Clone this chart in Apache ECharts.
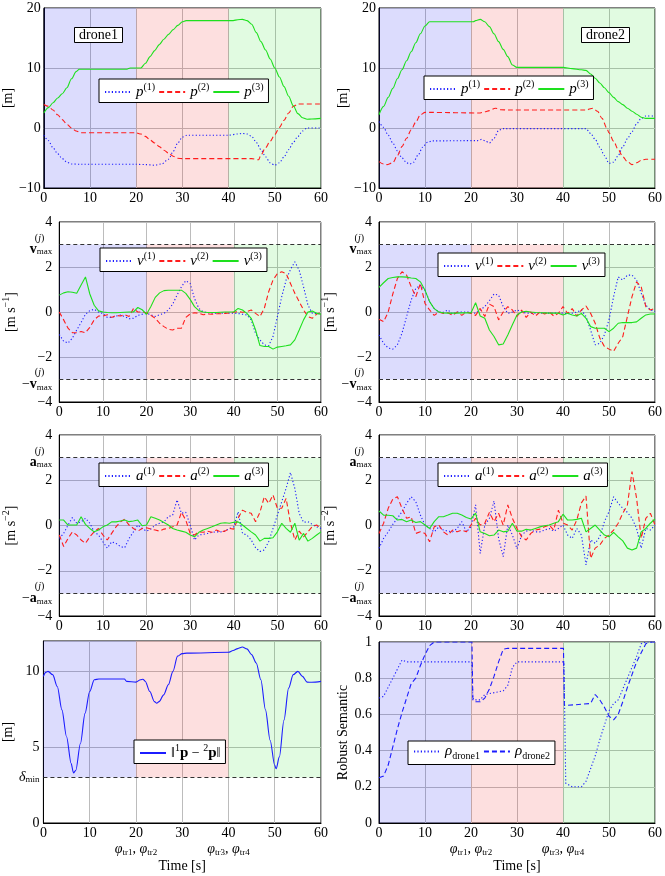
<!DOCTYPE html>
<html>
<head>
<meta charset="utf-8">
<script src="https://cdn.jsdelivr.net/npm/echarts@6/dist/echarts.min.js"></script>
<style>
html,body{margin:0;padding:0;background:#fff}
#main{width:665px;height:876px}
</style>
</head>
<body>
<div id="main"></div>
<script>
var FONT = 'Liberation Serif';

// sample times (s) for velocity / acceleration
var T = [0,1,2,3,4,5,6,7,8,9,10,11,12,13,14,15,16,17,18,19,20,21,22,23,24,25,26,27,28,29,30,
         31,32,33,34,35,36,37,38,39,40,41,42,43,44,45,46,47,48,49,50,51,52,53,54,55,56,57,58,59,60];

// positions [t, m]
var d1_p1 = [[0,-1.2],[1,-2.1],[2,-3.3],[3,-4.3],[4,-5.1],[5,-5.7],[6,-6],[8,-6.05],[20,-6.05],[22,-6.1],[24,-6.2],[25.5,-6.0],[27,-5.2],[28,-3.9],[29,-2.5],[30,-1.5],[31,-1.2],[40,-1.2],[42,-1.0],[43,-0.9],[44,-1.0],[45,-1.4],[46,-2.4],[47,-3.6],[48,-4.8],[49,-5.8],[50,-6.2],[51,-5.8],[52,-4.8],[53,-3.6],[54,-2.4],[55,-1.4],[56,-0.5],[57,0],[60,0]];
var d1_p2 = [[0,3.9],[1,3.6],[2,3],[3,2.2],[4,1.4],[5,0.6],[6,0],[7,-0.5],[8,-0.8],[20,-0.8],[21,-1.0],[22,-1.4],[23,-2.0],[24,-2.5],[25,-3.1],[26,-3.7],[27,-4.2],[28,-4.7],[29,-5.05],[30,-5.1],[45,-5.1],[46.5,-5.3],[47,-4.5],[48,-3.3],[49,-2.2],[50,-1.1],[51,0.1],[52,1.3],[53,2.5],[54,3.6],[55,4.0],[60,4.0]];
var d1_p3 = [[0,2.5],[1,3.4],[2,4.2],[3,5],[4,5.7],[5,6.7],[6,8.2],[7,9.4],[7.7,9.8],[18,9.8],[18.7,10.0],[21,10.0],[22,10.8],[23,11.9],[24,12.9],[25,13.9],[26,14.8],[27,15.6],[28,16.4],[29,17.1],[30,17.7],[30.8,17.9],[41,17.9],[42,18.05],[43,18.1],[44,17.9],[45,17.3],[46,15.9],[47,14.4],[48,13],[49,11.5],[50,10],[51,8.5],[52,6.9],[53,5.3],[54,3.7],[55,2.4],[56,1.7],[57,1.45],[58,1.5],[60,1.6]];

var d2_p1 = [[0,1.1],[1,0.1],[2,-1.2],[3,-2.5],[4,-3.8],[5,-5],[6,-5.8],[6.7,-6.0],[7.5,-5.7],[8.5,-4.5],[9.5,-3.2],[10.5,-2.4],[11.5,-2.15],[21.5,-2.1],[22.3,-1.9],[23,-2.1],[24,-2.5],[25,-1.7],[26,-0.4],[27,-0.1],[45,-0.1],[46,-0.9],[47,-1.9],[48,-3.2],[49,-4.6],[50,-5.9],[51,-5.7],[52,-4.6],[53,-3.1],[54,-1.8],[55,-0.6],[56,0.7],[57,1.6],[58,2.0],[60,2.0]];
var d2_p2 = [[0,-5.6],[1,-6.0],[1.7,-6.1],[3,-5.8],[4,-4.6],[5,-3.1],[6,-1.7],[7,-0.3],[8,1.0],[9,2.2],[10,2.6],[11,2.6],[22,2.5],[23,2.7],[24,2.9],[25.3,3.3],[26.5,3.05],[28,3.0],[45,3.0],[46.5,3.3],[47.5,2.8],[48.5,1.6],[49.5,0],[50,-0.8],[51,-2.2],[52,-3.6],[53,-4.8],[54,-5.6],[55,-6.1],[56,-5.8],[57,-5.4],[58,-5.2],[60,-5.2]];
var d2_p3 = [[0,2.2],[1,3.6],[2,5.1],[3,6.6],[4,8.2],[5,9.7],[6,11.2],[7,12.7],[8,14.2],[9,15.7],[10,17.0],[11,17.7],[20.5,17.7],[21,17.9],[22,18.1],[23,17.7],[24,16.9],[25,15.7],[26,14.4],[27,13.1],[28,11.9],[29,10.5],[30,10.1],[40,10.1],[42,9.9],[44,9.7],[45,9.6],[46,9.0],[47,8.3],[48,7.5],[49,6.7],[50,5.9],[51,5.1],[52,4.4],[53,3.9],[54,3.3],[55,2.8],[56,2.3],[57,1.8],[58,1.6],[60,1.6]];

// velocities (m/s), one value per second
var d1_v1 = [-1.0,-1.3,-1.38,-1.16,-0.8,-0.47,-0.1,0.06,0.12,0.0,-0.07,-0.24,-0.24,-0.18,-0.14,-0.2,-0.3,-0.28,-0.15,-0.1,-0.06,-0.12,-0.2,-0.12,-0.06,0.09,0.35,0.75,1.12,1.39,1.27,0.6,0.16,0.0,-0.03,-0.05,-0.05,-0.05,-0.05,-0.05,-0.05,-0.07,-0.1,-0.13,-0.35,-0.96,-1.24,-1.46,-1.5,-1.09,-0.2,0.68,1.42,1.89,2.23,1.86,1.12,0.31,-0.06,-0.07,-0.07];
var d1_v2 = [0.0,-0.35,-0.72,-0.92,-0.92,-0.87,-0.92,-0.68,-0.35,-0.18,-0.18,-0.12,-0.24,-0.15,-0.18,-0.12,-0.2,0.15,0.0,0.0,-0.04,-0.15,-0.28,-0.5,-0.65,-0.77,-0.8,-0.72,-0.72,-0.24,-0.09,-0.03,-0.06,-0.12,-0.09,-0.1,-0.08,-0.08,-0.06,-0.04,-0.01,0.02,-0.01,0.02,0.09,-0.06,-0.2,0.16,0.9,1.42,1.71,1.79,1.71,1.27,0.83,0.46,0.09,-0.2,-0.28,-0.09,-0.03];
var d1_v3 = [0.75,0.85,0.9,0.88,0.83,1.2,1.56,0.8,0.3,0.05,0.0,-0.02,-0.03,-0.03,-0.02,-0.01,0.0,0.0,0.2,0.1,-0.1,0.24,0.65,0.85,0.95,0.97,0.97,0.97,0.97,0.83,0.56,0.24,0.06,0.0,-0.02,-0.02,-0.02,-0.01,0.0,0.0,0.0,0.16,0.09,-0.06,-0.28,-0.8,-1.49,-1.53,-1.53,-1.65,-1.56,-1.53,-1.5,-1.46,-1.24,-0.8,-0.35,0.0,0.04,-0.06,-0.1];
var d2_v1 = [-1.02,-1.39,-1.6,-1.65,-1.46,-0.94,-0.2,0.53,1.05,1.19,0.97,0.46,0.16,0.0,-0.01,0.09,-0.09,0.0,0.0,0.0,0.0,-0.06,0.09,0.24,0.5,0.8,0.75,0.24,-0.06,0.0,0.09,0.0,-0.05,-0.05,-0.05,-0.05,-0.05,-0.05,-0.05,-0.05,-0.05,-0.08,-0.05,0.0,0.09,-0.2,-0.8,-1.46,-1.39,-1.02,-0.35,0.68,1.56,1.42,1.64,1.64,1.42,0.83,0.31,0.09,0.0];
var d2_v2 = [-0.32,-0.43,0.0,0.8,1.49,1.79,1.64,1.12,0.68,1.27,0.38,0.09,-0.15,0.0,-0.06,-0.03,-0.15,0.0,-0.15,0.0,-0.06,-0.15,0.16,-0.2,0.35,0.24,-0.35,0.0,0.24,0.09,-0.2,0.09,-0.24,0.0,-0.18,0.0,-0.09,0.0,-0.18,-0.06,0.24,-0.06,0.15,-0.18,0.09,0.27,-0.06,-0.5,-1.16,-1.53,-1.65,-1.75,-1.39,-1.09,-0.2,0.68,1.34,1.12,0.24,0.09,0.16];
var d2_v3 = [1.09,1.3,1.49,1.53,1.56,1.56,1.55,1.51,1.49,1.34,0.97,0.46,0.15,0.0,-0.04,-0.05,-0.05,-0.05,-0.04,-0.03,-0.04,0.41,-0.18,-0.28,-0.8,-1.09,-1.46,-1.42,-1.02,-0.57,-0.13,0.0,0.03,0.0,-0.02,-0.03,-0.04,-0.05,-0.05,-0.05,-0.13,-0.06,-0.13,-0.18,-0.06,-0.28,-0.65,-0.72,-0.72,-0.72,-0.87,-0.72,-0.5,-0.47,-0.47,-0.47,-0.44,-0.28,-0.13,-0.09,-0.09];

// accelerations (m/s^2), one value per second
var d1_a1 = [-0.57,-0.35,0.02,0.35,0.1,0.16,0.32,0.1,-0.28,-0.42,-0.72,-1.0,-0.72,-0.79,-0.93,-0.98,-0.57,-0.28,0.02,-0.13,-0.25,-0.16,0.02,0.1,0.16,0.39,0.46,1.13,0.54,0.58,0.02,-0.64,-0.42,-0.39,-0.35,-0.3,-0.28,-0.28,-0.25,-0.13,-0.06,0.61,-0.35,-0.42,-0.64,-0.98,-1.15,-1.08,-0.72,-0.13,0.46,1.05,1.64,2.34,1.64,0.54,0.14,0.17,0.05,-0.06,-0.13];
var d1_a2 = [-0.42,-0.93,-0.57,-0.28,-0.42,-0.64,-0.79,-0.5,-0.28,-0.13,-0.42,-0.64,-0.35,-0.06,0.16,0.28,0.02,-0.13,-0.25,-0.13,-0.1,-0.16,-0.2,-0.25,-0.16,-0.13,-0.06,0.02,0.58,0.24,-0.35,-0.42,-0.28,-0.3,-0.25,-0.3,-0.2,-0.28,-0.25,-0.13,-0.16,0.32,0.68,0.58,0.54,0.17,0.58,1.27,0.98,1.35,0.76,0.76,1.2,0.1,-0.64,-0.25,-0.5,-0.28,-0.05,0.02,-0.13];
var d1_a3 = [0.24,0.24,0.02,0.02,0.02,0.39,0.05,-0.13,-0.28,-0.2,-0.06,0.02,0.16,0.16,0.2,0.24,0.17,0.2,0.24,-0.01,0.02,0.39,0.32,0.24,0.13,0.02,-0.13,-0.2,-0.25,-0.3,-0.42,-0.5,-0.3,-0.2,-0.13,-0.06,0.02,0.1,0.12,0.1,0.14,0.16,0.02,-0.13,-0.28,-0.42,-0.69,-0.57,-0.57,-0.54,-0.28,0.1,-0.13,-0.3,0.1,-0.65,-0.35,-0.69,-0.57,-0.42,-0.28];
var d2_a1 = [-1.01,-0.57,-0.28,0.05,0.32,0.61,0.98,1.27,1.05,0.46,0.02,-0.13,-0.28,-0.06,-0.2,-0.25,-0.28,-0.13,0.17,-0.28,-0.06,0.91,-1.23,0.02,0.32,1.08,-0.57,-1.38,0.02,-0.42,-1.03,-0.42,-0.25,-0.2,-0.28,-0.28,-0.2,-0.13,-0.25,-0.13,0.02,-0.42,-0.57,-0.13,-0.42,-1.74,-0.64,-0.79,-0.5,0.17,0.61,1.27,0.98,0.76,0.58,0.32,-0.13,-1.0,-0.13,-0.2,0.02];
var d2_a2 = [-0.35,0.1,0.76,1.17,1.27,0.76,0.32,0.39,-0.35,-0.28,-0.35,-0.72,-0.06,0.02,-0.28,-0.42,-0.2,-0.28,-0.2,-0.28,0.02,0.32,0.02,0.1,0.58,0.17,0.54,0.02,0.91,0.32,-0.13,-0.5,-0.64,-0.35,-0.2,-0.16,-0.06,0.02,-0.2,0.68,0.1,0.02,-0.2,0.24,1.0,1.3,-1.45,-1.0,-0.86,-0.57,-0.42,-0.2,0.1,0.54,0.91,2.38,1.2,-0.57,0.32,0.54,0.02];
var d2_a3 = [0.64,0.46,0.45,0.43,0.24,0.27,0.17,0.24,0.13,0.17,0.02,-0.13,0.17,0.39,0.39,0.46,0.54,0.54,0.46,0.35,0.29,0.55,-0.28,-0.35,-0.45,-0.42,-0.2,-0.28,-0.25,0.1,-0.25,-0.25,-0.17,-0.2,-0.13,-0.06,-0.01,0.02,0.1,0.17,0.5,0.24,0.24,0.27,0.32,-0.28,-0.13,0.02,-0.2,-0.42,-0.5,-0.3,-0.5,-0.68,-1.0,-1.08,-1.0,-0.28,-0.13,0.1,0.29];

// inter-drone distance [t, m]
var dist12 = [[0,9.67],[0.5,9.93],[1,10.0],[2,9.78],[3,9.0],[4,7.46],[5,5.69],[6,3.92],[6.5,3.3],[7,3.47],[8,5.24],[9,7.23],[10,8.67],[11,9.45],[12,9.49],[17.5,9.49],[18,9.34],[20,9.29],[21,9.45],[21.5,9.48],[22,9.35],[23,8.67],[24,8.0],[24.5,7.9],[25,8.0],[26,8.45],[27,9.12],[28,10.0],[29,11.0],[30,11.17],[31,11.2],[40,11.26],[41,11.37],[42,11.5],[43,11.6],[44,11.48],[45,11.1],[46,10.55],[47,9.45],[48,7.46],[49,5.46],[50,3.8],[50.3,3.58],[51,4.36],[52,6.79],[53,8.89],[54,9.78],[55,10.0],[56,9.67],[57,9.29],[58,9.28],[60,9.34]];
var deltaMin = 3;
var vMax = 3, aMax = 3;

// robust semantics [t, rho]
var rho1 = [[0,0.69],[1,0.70],[2,0.75],[3,0.8],[4,0.85],[5,0.9],[6,0.89],[20.2,0.89],[20.4,0.68],[22,0.68],[23,0.71],[27,0.73],[28,0.76],[29,0.86],[30,0.89],[40.2,0.89],[40.6,0.22],[42,0.2],[44,0.2],[45,0.23],[46,0.3],[47,0.37],[48,0.46],[49,0.54],[50,0.62],[51,0.66],[52,0.68],[53,0.74],[54,0.8],[55,0.86],[56,0.92],[57,0.99],[58,1.0],[60,1.0]];
var rho2 = [[0,0.25],[1,0.26],[2,0.32],[3,0.42],[4,0.52],[5,0.61],[6,0.69],[7,0.77],[8,0.8],[9,0.87],[10,0.93],[11,0.98],[12,1.0],[20.2,1.0],[20.4,0.69],[21,0.67],[22,0.67],[23,0.69],[24,0.74],[25,0.81],[26,0.89],[27,0.96],[28,0.965],[40.1,0.965],[40.3,0.65],[41,0.65],[46,0.66],[47,0.71],[48,0.68],[49,0.64],[50,0.59],[51,0.57],[52,0.6],[53,0.67],[54,0.75],[55,0.82],[56,0.89],[57,0.94],[58,0.99],[59,1.0],[60,1.0]];

// phase boundaries (s)
var phases = [0, 20, 40, 60];

var BLUE = '#1c1cff', RED = '#ff1c1c', GREEN = '#1ee01e';
var SHADE = ['rgba(40,40,240,0.16)', 'rgba(240,40,40,0.15)', 'rgba(40,230,40,0.14)'];
var GRIDC = '#bcbcbc';
var DOT = [1.2, 2.2], DASH = [5, 3];

var RICH = {
    n: {fontFamily: FONT, fontSize: 14, color: '#000', lineHeight: 20},
    i: {fontFamily: FONT, fontSize: 15, fontStyle: 'italic', color: '#000', lineHeight: 20},
    b: {fontFamily: FONT, fontSize: 15, fontWeight: 'bold', color: '#000', lineHeight: 20},
    sup: {fontFamily: FONT, fontSize: 10, color: '#000', verticalAlign: 'top', lineHeight: 8},
    sub: {fontFamily: FONT, fontSize: 10, color: '#000', verticalAlign: 'bottom', lineHeight: 12}
};
var LAB = {
    n: {fontFamily: FONT, fontSize: 14, color: '#000', lineHeight: 15},
    bv: {fontFamily: FONT, fontSize: 14, fontWeight: 'bold', color: '#000', lineHeight: 13},
    iv: {fontFamily: FONT, fontSize: 14, fontStyle: 'italic', color: '#000', lineHeight: 13},
    sub: {fontFamily: FONT, fontSize: 9, color: '#000', verticalAlign: 'bottom', lineHeight: 9},
    jp: {fontFamily: FONT, fontSize: 10, color: '#000', lineHeight: 10},
    jpr: {fontFamily: FONT, fontSize: 10, color: '#000', lineHeight: 10, padding: [0, 8, 0, 0]},
    ji: {fontFamily: FONT, fontSize: 10, fontStyle: 'italic', color: '#000', lineHeight: 10},
    phi: {fontFamily: FONT, fontSize: 14, fontStyle: 'italic', color: '#000', lineHeight: 16},
    ts: {fontFamily: FONT, fontSize: 9, color: '#000', verticalAlign: 'bottom', lineHeight: 11}
};

function num(v) {
    var s = Math.abs(v) < 1e-9 ? '0' : String(Math.round(Math.abs(v) * 10) / 10);
    return v < -1e-9 ? '−' + s : s;
}
function withT(vals) {
    return vals.map(function (v, i) { return [T[i], v]; });
}
function limFmt(sym) {
    return function (v) {
        var jl = '{jp|(}{ji|j}{jpr|)}';
        if (v === 3) return jl + '\n{bv|' + sym + '}{sub|max}';
        if (v === -3) return jl + '\n{n|−}{bv|' + sym + '}{sub|max}';
        return '{n|' + num(v) + '}';
    };
}
function timeFmt(v) {
    if (v === 20) return '{n|20}\n{phi|φ}{ts|tr1}{n|, }{phi|φ}{ts|tr2}';
    if (v === 40) return '{n|40}\n{phi|φ}{ts|tr3}{n|, }{phi|φ}{ts|tr4}';
    return '{n|' + v + '}';
}

var grids = [
    {left: 41, top: 8, width: 280, height: 180},
    {left: 379, top: 8, width: 281, height: 180},
    {left: 41, top: 222, width: 280, height: 180},
    {left: 379, top: 222, width: 281, height: 180},
    {left: 41, top: 435, width: 280, height: 181},
    {left: 379, top: 435, width: 281, height: 181},
    {left: 41, top: 641, width: 280, height: 182},
    {left: 379, top: 642, width: 281, height: 181}
].map(function (g) {
    return Object.assign({show: true, borderColor: '#000', borderWidth: 1, backgroundColor: 'rgba(0,0,0,0)'}, g);
});

var xAxes = grids.map(function (g, i) {
    var bottom = i >= 6;
    return {
        type: 'value', gridIndex: i, min: 0, max: 60, interval: 10,
        axisLine: {show: true, onZero: false, lineStyle: {color: '#000'}},
        axisTick: {show: false},
        splitLine: {show: true, lineStyle: {color: GRIDC, width: 1}},
        axisLabel: {margin: 3, formatter: bottom ? timeFmt : function (v) { return '{n|' + v + '}'; }, rich: LAB},
        name: bottom ? 'Time [s]' : '',
        nameLocation: 'middle', nameGap: 36,
        nameTextStyle: {fontFamily: FONT, fontSize: 14, color: '#000'}
    };
});

function yAxis(i, o) {
    return Object.assign({
        type: 'value', gridIndex: i,
        axisLine: {show: true, onZero: false, lineStyle: {color: '#000'}},
        axisTick: {show: false},
        splitLine: {show: true, lineStyle: {color: GRIDC, width: 1}},
        nameLocation: 'middle', nameRotate: 90,
        nameTextStyle: {fontFamily: FONT, fontSize: 14, color: '#000', rich: RICH}
    }, o);
}

var yAxes = [
    yAxis(0, {min: -10, max: 20, interval: 10, name: '[m]', nameGap: 20,
        axisLabel: {margin: 3, formatter: function (v) { return '{n|' + num(v) + '}'; }, rich: LAB}}),
    yAxis(1, {min: -10, max: 20, interval: 10, name: '[m]', nameGap: 20,
        axisLabel: {margin: 3, formatter: function (v) { return '{n|' + num(v) + '}'; }, rich: LAB}}),
    yAxis(2, {min: -4, max: 4, interval: 2, name: '{n|[m s}{sup|−1}{n|]}', nameGap: 14,
        axisLabel: {margin: 7, customValues: [-4, -3, -2, 0, 2, 3, 4], formatter: limFmt('v'), rich: LAB}}),
    yAxis(3, {min: -4, max: 4, interval: 2, name: '{n|[m s}{sup|−1}{n|]}', nameGap: 15,
        axisLabel: {margin: 7, customValues: [-4, -3, -2, 0, 2, 3, 4], formatter: limFmt('v'), rich: LAB}}),
    yAxis(4, {min: -4, max: 4, interval: 2, name: '{n|[m s}{sup|−2}{n|]}', nameGap: 14,
        axisLabel: {margin: 7, customValues: [-4, -3, -2, 0, 2, 3, 4], formatter: limFmt('a'), rich: LAB}}),
    yAxis(5, {min: -4, max: 4, interval: 2, name: '{n|[m s}{sup|−2}{n|]}', nameGap: 15,
        axisLabel: {margin: 7, customValues: [-4, -3, -2, 0, 2, 3, 4], formatter: limFmt('a'), rich: LAB}}),
    yAxis(6, {min: 0, max: 12, interval: 5, name: '[m]', nameGap: 19,
        axisLabel: {margin: 4, customValues: [0, 3, 5, 10], rich: LAB, formatter: function (v) {
            return v === 3 ? '{iv|δ}{sub|min}' : '{n|' + v + '}';
        }}}),
    yAxis(7, {min: 0, max: 1, interval: 0.2, name: 'Robust Semantic', nameGap: 24,
        axisLabel: {margin: 7, rich: LAB, formatter: function (v) {
            return '{n|' + (v === 0 || v === 1 ? String(v) : v.toFixed(1)) + '}';
        }}})
];

function bands(g, lo, hi, limits) {
    var s = {
        type: 'line', xAxisIndex: g, yAxisIndex: g, data: [], silent: true, z: 1,
        markArea: {silent: true, data: [0, 1, 2].map(function (k) {
            return [{xAxis: phases[k], yAxis: lo, itemStyle: {color: SHADE[k]}}, {xAxis: phases[k + 1], yAxis: hi}];
        })}
    };
    if (limits) {
        s.markLine = {silent: true, symbol: 'none', label: {show: false},
            lineStyle: {color: '#333', type: [4, 3], width: 1.2},
            data: limits.map(function (v) { return {yAxis: v}; })};
    }
    return s;
}
function line(name, data, g, color, dash, smooth) {
    return {
        name: name, type: 'line', xAxisIndex: g, yAxisIndex: g, data: data,
        symbol: 'none', showSymbol: false, smooth: smooth || false, smoothMonotone: 'x',
        lineStyle: {color: color, width: 1.1, type: dash}, itemStyle: {color: color},
        silent: true, z: 3
    };
}

var series = [
    bands(0, -10, 20), bands(1, -10, 20),
    bands(2, -vMax, vMax, [vMax, -vMax]), bands(3, -vMax, vMax, [vMax, -vMax]),
    bands(4, -aMax, aMax, [aMax, -aMax]), bands(5, -aMax, aMax, [aMax, -aMax]),
    bands(6, deltaMin, 12, [deltaMin]), bands(7, 0, 1),

    line('p1', d1_p1, 0, BLUE, DOT, 0.3), line('p2', d1_p2, 0, RED, DASH, 0.3), line('p3', d1_p3, 0, GREEN, 'solid', 0.3),
    line('q1', d2_p1, 1, BLUE, DOT, 0.3), line('q2', d2_p2, 1, RED, DASH, 0.3), line('q3', d2_p3, 1, GREEN, 'solid', 0.3),
    line('v1', withT(d1_v1), 2, BLUE, DOT), line('v2', withT(d1_v2), 2, RED, DASH), line('v3', withT(d1_v3), 2, GREEN, 'solid'),
    line('w1', withT(d2_v1), 3, BLUE, DOT), line('w2', withT(d2_v2), 3, RED, DASH), line('w3', withT(d2_v3), 3, GREEN, 'solid'),
    line('a1', withT(d1_a1), 4, BLUE, DOT), line('a2', withT(d1_a2), 4, RED, DASH), line('a3', withT(d1_a3), 4, GREEN, 'solid'),
    line('b1', withT(d2_a1), 5, BLUE, DOT), line('b2', withT(d2_a2), 5, RED, DASH), line('b3', withT(d2_a3), 5, GREEN, 'solid'),
    line('dist', dist12, 6, BLUE, 'solid', 0.3),
    line('r1', rho1, 7, BLUE, DOT), line('r2', rho2, 7, BLUE, DASH)
];

var LEGTXT = {
    p1: '{i|p}{sup|(1)}', p2: '{i|p}{sup|(2)}', p3: '{i|p}{sup|(3)}',
    q1: '{i|p}{sup|(1)}', q2: '{i|p}{sup|(2)}', q3: '{i|p}{sup|(3)}',
    v1: '{i|v}{sup|(1)}', v2: '{i|v}{sup|(2)}', v3: '{i|v}{sup|(3)}',
    w1: '{i|v}{sup|(1)}', w2: '{i|v}{sup|(2)}', w3: '{i|v}{sup|(3)}',
    a1: '{i|a}{sup|(1)}', a2: '{i|a}{sup|(2)}', a3: '{i|a}{sup|(3)}',
    b1: '{i|a}{sup|(1)}', b2: '{i|a}{sup|(2)}', b3: '{i|a}{sup|(3)}',
    dist: '{n|‖}{sup|1}{b|p}{n| − }{sup|2}{b|p}{n|‖}',
    r1: '{i|ρ}{sub|drone1}', r2: '{i|ρ}{sub|drone2}'
};
function legend(names, left, top) {
    return {
        data: names, left: left, top: top, orient: 'horizontal',
        backgroundColor: '#fff', borderColor: '#000', borderWidth: 1, borderRadius: 0,
        padding: [3, 5], itemWidth: 26, itemHeight: 12, itemGap: 3,
        itemStyle: {opacity: 0, borderWidth: 0},
        formatter: function (n) { return LEGTXT[n]; },
        textStyle: {fontFamily: FONT, fontSize: 14, color: '#000', rich: RICH},
        selectedMode: false
    };
}

function tag(text, left, top) {
    return {
        text: text, left: left, top: top, padding: [1, 5],
        borderColor: '#000', borderWidth: 1, backgroundColor: '#fff',
        textStyle: {fontFamily: FONT, fontSize: 14, fontWeight: 'normal', color: '#000'}
    };
}

var chart = echarts.init(document.getElementById('main'));
chart.setOption({
    animation: false,
    backgroundColor: '#fff',
    textStyle: {fontFamily: FONT},
    title: [tag('drone1', 74, 27), tag('drone2', 581, 27)],
    legend: [
        legend(['p1', 'p2', 'p3'], 99, 79),
        legend(['q1', 'q2', 'q3'], 424, 76),
        legend(['v1', 'v2', 'v3'], 100, 248),
        legend(['w1', 'w2', 'w3'], 438, 253),
        legend(['a1', 'a2', 'a3'], 99, 463),
        legend(['b1', 'b2', 'b3'], 438, 463),
        legend(['dist'], 134, 740),
        legend(['r1', 'r2'], 408, 741)
    ],
    grid: grids,
    xAxis: xAxes,
    yAxis: yAxes,
    series: series
});
</script>
</body>
</html>
